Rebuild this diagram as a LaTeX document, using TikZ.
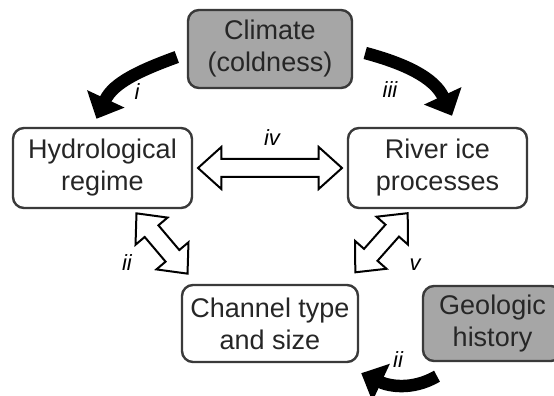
\documentclass[tikz,border=0pt]{standalone}
\usepackage{fontspec}
\setmainfont{Liberation Sans}
\usetikzlibrary{positioning,arrows.meta,shapes.arrows}
\definecolor{boxgray}{HTML}{A6A6A6}
\definecolor{edgegray}{HTML}{3A3A3A}

\begin{document}
\begin{tikzpicture}[x=1pt, y=1pt,
		box/.style={rectangle, rounded corners=11pt, draw=edgegray, line width=2.4pt, align=center, text=black!85, font=\fontsize{27}{32}\selectfont, inner sep=0pt},
		driver/.style={box, fill=boxgray},
		bigarrow/.style={line width=12.5pt, -{Triangle[length=22pt, width=40pt]}},
		dblarrow/.style={double arrow, draw=black, line width=2pt, fill=white, inner sep=8pt, minimum width=40pt, double arrow head extend=12pt, double arrow tip angle=84},
		lbl/.style={font=\fontsize{22}{26}\selectfont\itshape}]
			\useasboundingbox (0,0) rectangle (554,396);
			\clip (0,0) rectangle (554,396);

			% boxes
			\node[driver, minimum width=164pt, minimum height=78pt] (clim) at (270,347) {Climate\\(coldness)};
			\node[box, minimum width=179pt, minimum height=80pt] (hyd) at (102.5,228) {Hydrological\\regime};
			\node[box, minimum width=179pt, minimum height=80pt] (riv) at (437.5,228) {River ice\\processes};
			\node[box, minimum width=176pt, minimum height=77pt] (chan) at (270,72.5) {Channel type\\and size};
			\node[driver, minimum width=139pt, minimum height=75pt] (geo) at (492.5,72.5) {Geologic\\history};

			% forcing arrows
			\draw[bigarrow] ([shift={(-10,-8)}]clim.west) to[out=200, in=65] ([shift={(-6,8)}]hyd.north);
			\draw[bigarrow] ([shift={(12,-4)}]clim.east) to[out=-15, in=115] ([shift={(14.5,11)}]riv.north);
			\draw[bigarrow] ([shift={(-55.5,-14)}]geo.south) to[out=210, in=-25] ([shift={(2,-10)}]chan.south east);

			% two-way links
			\path (hyd.east) -- node[dblarrow, sloped, minimum height=144pt] (hydriv) {} (riv.west);
			\path ([shift={(-56,-5)}]hyd.south east) -- node[dblarrow, sloped, minimum height=79pt] (hydchan) {} ([shift={(6,11)}]chan.north west);
			\path ([shift={(60,-5)}]riv.south west) -- node[dblarrow, sloped, minimum height=79pt] (rivchan) {} ([shift={(-3,12.5)}]chan.north east);

			% labels
			\node[lbl] (li) at (137,304) {i};
			\node[lbl] (liii) at (390,306) {iii};
			\node[lbl] (liv) at (272,258) {iv};
			\node[lbl] (lii) at (127,133) {ii};
			\node[lbl] (lv) at (415,131) {v};
			\node[lbl] (liib) at (398,36) {ii};

\end{tikzpicture}
\end{document}
